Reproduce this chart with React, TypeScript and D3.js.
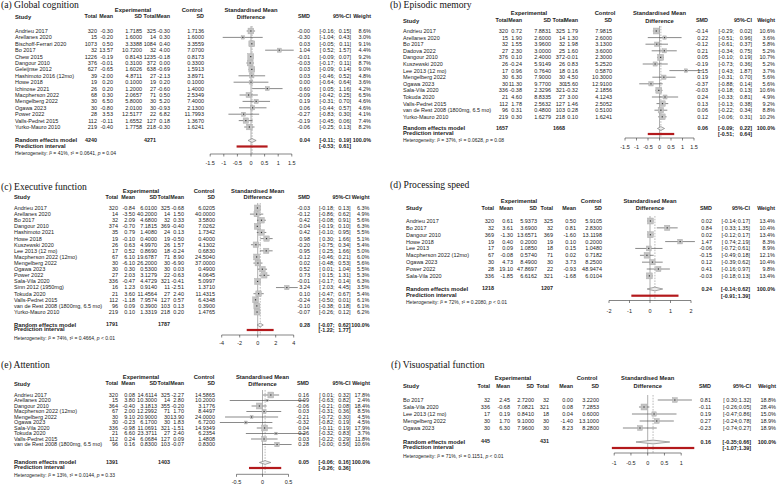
import React, { useEffect } from "react";
import * as d3 from "d3";

// ---------------- DATA ----------------
// (a) Global cognition
const aStudy = ["Andrieu 2017","Arellanes 2020","Bischoff-Ferrari 2020","Bo 2017","Chew 2015","Dangour 2010","Geleijnse 2012","Hashimoto 2016 (12mo)","Howe 2018","Ichinose 2021","Macpherson 2022","Mengelberg 2022","Ogawa 2023","Power 2022","Valls-Pedret 2015","Yurko-Mauro 2010"];
const aExpN = [320,15,1073,32,1226,376,627,39,19,26,68,30,30,28,112,219];
const aExpMean = [-0.30,-0.20,0.50,13.57,-0.19,-0.01,-0.65,-2.00,0.20,0.20,0.30,6.50,-0.80,3.53,-0.11,-0.40];
const aExpSD = [1.7185,1.6000,3.3388,10.7200,0.8143,0.3100,1.6026,4.8711,0.1000,1.2000,2.0657,5.8000,2.0100,12.5177,1.6552,1.7758];
const aCtlN = [325,14,1084,32,1235,372,638,27,19,27,71,30,30,22,127,218];
const aCtlMean = [-0.30,0.30,0.40,4.00,-0.18,0.00,-0.69,-2.13,0.20,-0.60,0.50,5.20,-0.93,6.82,0.18,-0.30];
const aCtlSD = [1.7136,1.6000,3.3559,7.0700,0.8173,0.3300,1.5913,3.8971,0.1000,1.4000,2.5349,7.4000,2.1300,11.7993,1.3670,1.6241];
const aSMD = [-0.004,-0.30,0.03,1.04,-0.01,-0.03,0.03,0.03,0.00,0.60,-0.09,0.19,0.06,-0.27,-0.19,-0.06];
const aLow = [-0.16,-1.04,-0.05,0.52,-0.09,-0.17,-0.09,-0.46,-0.64,0.05,-0.42,-0.31,-0.44,-0.83,-0.45,-0.25];
const aUp = [0.15,0.43,0.11,1.57,0.07,0.11,0.14,0.52,0.64,1.16,0.25,0.70,0.57,0.30,0.06,0.13];
const aWeight = [8.6,3.0,9.1,4.4,9.2,8.7,9.0,4.8,3.6,4.2,6.5,4.6,4.6,4.1,7.4,8.2];
const aSummary = [0.04,-0.11,0.19];
const aPI = [-0.53,0.61];
const aTotals = [4240,4271];
const aHet = ["41%","0.0641","= 0.04"];
const aTicks = [-1.5,-1,-0.5,0,0.5,1,1.5];

// (b) Episodic memory
const bStudy = ["Andrieu 2017","Arellanes 2020","Bo 2017","Dadova 2022","Dangour 2010","Kuszewski 2020","Lee 2013 (12 mo)","Mengelberg 2022","Ogawa 2023","Sala-Vila 2020","Tokuda 2020","Valls-Pedret 2015","van de Rest 2008 (1800mg, 6.5 mo)","Yurko-Mauro 2010"];
const bExpN = [320,15,32,27,376,26,17,30,30,336,21,112,96,219];
const bExpMean = [0.72,1.90,1.55,2.30,0.10,-0.24,0.96,6.30,11.30,-0.38,4.60,1.78,0.31,0.30];
const bExpSD = [7.8831,2.6000,3.9600,3.0000,2.4000,5.9149,0.7640,7.9000,9.7700,2.3296,8.8335,2.5632,0.4800,1.6279];
const bCtlN = [325,14,32,25,372,26,18,30,30,321,27,127,103,218];
const bCtlMean = [1.79,1.30,1.98,1.60,-0.01,0.83,0.16,4.50,15.60,-0.32,3.00,1.46,0.28,0.10];
const bCtlSD = [7.9815,2.6000,3.1300,3.6000,2.3000,5.2520,0.5870,10.3000,12.9100,2.1856,4.1243,2.5052,0.5100,1.6241];
const bSMD = [-0.14,0.22,-0.12,0.21,0.05,-0.19,1.15,0.19,-0.37,-0.03,0.24,0.13,0.06,0.12];
const bLow = [-0.29,-0.51,-0.61,-0.34,-0.10,-0.73,0.43,-0.31,-0.88,-0.18,-0.33,-0.13,-0.22,-0.06];
const bUp = [0.02,0.96,0.37,0.75,0.19,0.36,1.87,0.70,0.14,0.13,0.81,0.38,0.34,0.31];
const bWeight = [10.6,3.6,5.8,5.2,10.7,5.2,3.7,5.6,5.6,10.6,4.9,9.2,8.8,10.2];
const bSummary = [0.06,-0.09,0.22];
const bPI = [-0.51,0.64];
const bTotals = [1657,1668];
const bHet = ["37%","0.0628","= 0.08"];
const bTicks = [-1.5,-1,-0.5,0,0.5,1,1.5];

// (c) Executive function
const cStudy = ["Andrieu 2017","Arellanes 2020","Bo 2017","Dangour 2010","Hashimoto 2021","Howe 2018","Kuszewski 2020","Lee 2013 (12 mo)","Macpherson 2022 (12mo)","Mengelberg 2022","Ogawa 2023","Power 2022","Sala-Vila 2020","Sinn 2012 (1950mg)","Tokuda 2020","Valls-Pedret 2015","van de Rest 2008 (1800mg, 6.5 mo)","Yurko-Mauro 2010"];
const cExpN = [320,14,32,374,35,19,26,17,67,30,30,27,336,16,21,112,96,219];
const cExpMean = [-0.84,-3.50,2.09,-0.70,0.79,-0.10,0.63,0.52,6.10,-6.10,0.30,2.03,-0.47,1.23,3.60,-1.18,0.09,0.10];
const cExpSD = [6.0100,40.2000,4.6800,7.1815,1.4080,0.4000,4.9970,0.8690,19.6787,26.2000,0.5300,3.1279,4.4729,0.9140,11.4564,7.9574,0.3900,1.3319];
const cCtlN = [325,14,32,369,24,19,26,18,71,30,30,22,321,11,27,127,103,218];
const cCtlMean = [-0.68,1.50,0.33,-0.40,0.13,-0.50,1.57,-0.24,8.90,-6.90,0.03,-0.63,-0.41,-2.51,2.40,0.57,0.13,0.20];
const cCtlSD = [6.0205,40.0000,3.5800,7.0262,1.7342,0.4000,4.1302,0.6830,24.5040,37.0000,0.4900,4.0645,5.0997,1.3710,11.4315,6.4348,0.3900,1.4765];
const cSMD = [-0.03,-0.12,0.42,-0.04,0.42,0.98,-0.20,0.95,-0.12,0.02,0.52,0.73,-0.01,3.24,0.10,-0.24,-0.10,-0.07];
const cLow = [-0.18,-0.86,-0.08,-0.19,-0.10,0.30,-0.75,0.25,-0.46,-0.48,0.01,0.15,-0.17,2.03,-0.47,-0.50,-0.38,-0.26];
const cUp = [0.13,0.62,0.91,0.10,0.95,1.66,0.34,1.66,0.21,0.53,1.04,1.31,0.14,4.45,0.67,0.01,0.18,0.12];
const cWeight = [6.3,4.9,5.6,6.3,5.5,5.1,5.4,5.0,6.0,5.6,5.5,5.3,6.3,3.5,5.4,6.1,6.1,6.2];
const cSummary = [0.28,-0.07,0.62];
const cPI = [-1.22,1.77];
const cTotals = [1791,1787];
const cHet = ["74%","0.4664","< 0.01"];
const cTicks = [-4,-2,0,2,4];

// (d) Processing speed
const dStudy = ["Andrieu 2017","Bo 2017","Dangour 2010","Howe 2018","Lee 2013","Macpherson 2022 (12mo)","Ogawa 2023","Power 2022","Sala-Vila 2020"];
const dExpN = [320,32,369,19,17,67,30,28,336];
const dExpMean = [0.61,3.61,-1.30,0.40,0.09,-0.08,4.73,19.10,-1.85];
const dExpSD = [5.9373,3.6900,13.6571,0.2000,1.0850,0.5740,8.4900,47.8697,6.6162];
const dCtlN = [325,32,369,19,18,71,30,22,321];
const dCtlMean = [0.50,0.81,-1.60,0.10,0.15,0.02,3.73,-0.93,-1.68];
const dCtlSD = [5.9105,2.8300,13.1198,0.2000,1.0480,0.7182,8.2500,48.9474,6.0104];
const dSMD = [0.02,0.84,0.02,1.47,-0.06,-0.15,0.12,0.41,-0.03];
const dLow = [-0.14,0.33,-0.12,0.74,-0.72,-0.49,-0.39,-0.16,-0.18];
const dUp = [0.17,1.35,0.17,2.19,0.61,0.18,0.62,0.97,0.13];
const dWeight = [13.4,10.4,13.4,8.3,8.9,12.1,10.4,9.8,13.4];
const dSummary = [0.24,-0.14,0.62];
const dPI = [-0.91,1.39];
const dTotals = [1218,1207];
const dHet = ["72%","0.2080","< 0.01"];
const dTicks = [-2,-1,0,1,2];

// (e) Attention
const eStudy = ["Andrieu 2017","Arellanes 2020","Dangour 2010","Macpherson 2022 (12mo)","Mengelberg 2022","Ogawa 2023","Sala-Vila 2020","Tokuda 2020","Valls-Pedret 2015","van de Rest 2008 (1800mg, 6.5 mo)"];
const eExpN = [320,15,364,67,30,30,336,21,112,96];
const eExpMean = [0.08,3.80,-0.40,2.00,9.10,-0.23,-0.98,6.60,0.24,0.16];
const eExpSD = [14.6114,10.3000,3.1813,12.2992,20.9000,6.1700,11.0691,23.3711,6.0684,0.8300];
const eCtlN = [325,14,355,71,30,30,321,27,127,103];
const eCtlMean = [-2.27,2.80,-0.20,1.70,13.90,1.83,-1.51,2.40,0.09,-0.07];
const eCtlSD = [14.5865,10.2000,3.1776,8.4497,24.0000,6.7200,14.9349,6.2354,1.4808,0.8300];
const eSMD = [0.16,0.09,-0.06,0.03,-0.21,-0.32,0.04,0.26,0.03,0.28];
const eLow = [0.01,-0.63,-0.21,-0.31,-0.72,-0.82,-0.11,-0.32,-0.22,-0.004];
const eUp = [0.32,0.82,0.08,0.36,0.30,0.19,0.19,0.83,0.29,0.56];
const eWeight = [17.8,2.4,18.4,8.5,4.5,4.5,17.9,3.7,11.8,10.6];
const eSummary = [0.05,-0.06,0.16];
const ePI = [-0.26,0.36];
const eTotals = [1391,1403];
const eHet = ["13%","0.0144","= 0.33"];
const eTicks = [-0.5,0,0.5];

// (f) Visuospatial function
const fStudy = ["Bo 2017","Sala-Vila 2020","Lee 2013 (12 mo)","Mengelberg 2022","Ogawa 2023"];
const fExpN = [32,336,17,30,30];
const fExpMean = [2.45,-0.68,0.19,1.70,6.30];
const fExpSD = [2.7200,7.0821,0.8410,9.1000,7.9600];
const fCtlN = [32,321,18,30,30];
const fCtlMean = [0.00,0.08,0.04,-1.40,8.23];
const fCtlSD = [3.2200,7.2853,0.6000,13.1000,8.2800];
const fSMD = [0.81,-0.11,0.19,0.27,-0.23];
const fLow = [0.30,-0.26,-0.47,-0.24,-0.74];
const fUp = [1.32,0.05,0.86,0.78,0.27];
const fWeight = [18.8,28.4,15.0,18.9,18.9];
const fSummary = [0.16,-0.35,0.66];
const fPI = [-1.07,1.39];
const fTotals = [445,431];
const fHet = ["71%","0.1151","< 0.01"];
const fTicks = [-1,-0.5,0,0.5,1];

// ---------------- LAYOUT ----------------
const SANS = "'Liberation Sans', Arial, Helvetica, sans-serif";
const SERIF = "'Liberation Serif', 'Times New Roman', serif";

const layouts = {
  a: { tx: 1, ty: 7.5, h1: 10, h2: 16.5, studyX: 15, cols: [97,113,142,156,170,204], expHdr: 133, ctlHdr: 192, row0: 31, step: 6.4, sumY: 140.5, piY: 146.5, hetY: 153, range: [210.2,291.8], axisY: 154, tickY: 163.5, smdX: 310, ciSemi: 335, ciEnd: 351, wX: 371 },
  b: { tx: 390, ty: 7.5, h1: 13, h2: 20.5, studyX: 403, cols: [508,522,551,565,578,612], expHdr: 529, ctlHdr: 605, row0: 31, step: 6.6, sumY: 128.5, piY: 134, hetY: 140, range: [625,694], axisY: 138, tickY: 147, smdX: 708, ciSemi: 734, ciEnd: 752, wX: 775 },
  c: { tx: 1, ty: 189, h1: 190.5, h2: 197, studyX: 14, cols: [118,135,157,170,184,215], expHdr: 141, ctlHdr: 204, row0: 208, step: 6.12, sumY: 325, piY: 330, hetY: 338, range: [221.7,293.7], axisY: 335, tickY: 343.5, smdX: 310, ciSemi: 334.5, ciEnd: 350.5, wX: 369.5 },
  d: { tx: 390, ty: 187, h1: 200.5, h2: 208, studyX: 406, cols: [494,513,537,553,576,602], expHdr: 519, ctlHdr: 591, row0: 221, step: 6.86, sumY: 289, piY: 295.7, hetY: 302.5, range: [609,691], axisY: 300.5, tickY: 311, smdX: 712, ciSemi: 737, ciEnd: 750, wX: 775 },
  e: { tx: 1, ty: 367, h1: 377, h2: 383.5, studyX: 14, cols: [118,135,157,170,184,215], expHdr: 141, ctlHdr: 204, row0: 395, step: 5.5, sumY: 462.5, piY: 468, hetY: 475, range: [236.5,288.5], axisY: 474.3, tickY: 482, smdX: 309, ciSemi: 334.5, ciEnd: 350.5, wX: 370 },
  f: { tx: 391, ty: 367, h1: 378, h2: 386, studyX: 403, cols: [490,510,534,549,573,599], expHdr: 513, ctlHdr: 587, row0: 400, step: 7, sumY: 442, piY: 448, hetY: 456, range: [614.2,681.2], axisY: 453, tickY: 463, smdX: 711, ciSemi: 738.5, ciEnd: 751, wX: 776 },
};

const panels = [
  { key: "a", title: "(a) Global cognition", study: aStudy, expN: aExpN, expMean: aExpMean, expSD: aExpSD, ctlN: aCtlN, ctlMean: aCtlMean, ctlSD: aCtlSD, smd: aSMD, low: aLow, up: aUp, weight: aWeight, summary: aSummary, pi: aPI, totals: aTotals, het: aHet, ticks: aTicks },
  { key: "b", title: "(b) Episodic memory", study: bStudy, expN: bExpN, expMean: bExpMean, expSD: bExpSD, ctlN: bCtlN, ctlMean: bCtlMean, ctlSD: bCtlSD, smd: bSMD, low: bLow, up: bUp, weight: bWeight, summary: bSummary, pi: bPI, totals: bTotals, het: bHet, ticks: bTicks },
  { key: "c", title: "(c) Executive function", study: cStudy, expN: cExpN, expMean: cExpMean, expSD: cExpSD, ctlN: cCtlN, ctlMean: cCtlMean, ctlSD: cCtlSD, smd: cSMD, low: cLow, up: cUp, weight: cWeight, summary: cSummary, pi: cPI, totals: cTotals, het: cHet, ticks: cTicks },
  { key: "d", title: "(d) Processing speed", study: dStudy, expN: dExpN, expMean: dExpMean, expSD: dExpSD, ctlN: dCtlN, ctlMean: dCtlMean, ctlSD: dCtlSD, smd: dSMD, low: dLow, up: dUp, weight: dWeight, summary: dSummary, pi: dPI, totals: dTotals, het: dHet, ticks: dTicks },
  { key: "e", title: "(e) Attention", study: eStudy, expN: eExpN, expMean: eExpMean, expSD: eExpSD, ctlN: eCtlN, ctlMean: eCtlMean, ctlSD: eCtlSD, smd: eSMD, low: eLow, up: eUp, weight: eWeight, summary: eSummary, pi: ePI, totals: eTotals, het: eHet, ticks: eTicks },
  { key: "f", title: "(f) Visuospatial function", study: fStudy, expN: fExpN, expMean: fExpMean, expSD: fExpSD, ctlN: fCtlN, ctlMean: fCtlMean, ctlSD: fCtlSD, smd: fSMD, low: fLow, up: fUp, weight: fWeight, summary: fSummary, pi: fPI, totals: fTotals, het: fHet, ticks: fTicks },
];

const FS = 5.5;    // regular table text
const FSB = 5.4;   // bold column headers / summary numbers
const FSL = 5.8;   // bold row labels
const FSH = 5.0;   // heterogeneity
const TXT = "#222";

function T({ x, y, children, anchor = "start", bold = false, size = FS, fill = TXT, font = SANS }: any) {
  return (
    <text x={x} y={y} dy="0.35em" textAnchor={anchor} fontWeight={bold ? "bold" : "normal"} fontSize={size} fill={fill} fontFamily={font}>
      {children}
    </text>
  );
}

const f2 = (v: number) => v.toFixed(2);
const f4 = (v: number) => v.toFixed(4);

function Forest({ p }: any) {
  const L = (layouts as any)[p.key];
  const x = d3.scaleLinear().domain([p.ticks[0], p.ticks[p.ticks.length - 1]]).range(L.range);
  const rowY = (i: number) => L.row0 + i * L.step;
  const wmax = d3.max(p.weight as number[]) as number;
  const sqSize = (w: number) => 6 * Math.sqrt(w / wmax);
  const lineTop = L.row0 - 5;
  const hd = 1.9;
  const [est, lo, hi] = p.summary;
  const diamond = `M${x(lo)},${L.sumY} L${x(est)},${L.sumY - hd} L${x(hi)},${L.sumY} L${x(est)},${L.sumY + hd} Z`;

  const ci = (low: number, up: number, y: number, bold: boolean, k: string) => {
    const sz = bold ? FSB : FS;
    const lowTxt = "[" + (low >= 0 && !Object.is(low, -0) && !(low < 0) ? "\u00a0" : "") + f2(low) + ";";
    return (
      <g key={k}>
        <T x={L.ciSemi} y={y} anchor="end" bold={bold} size={sz}>{lowTxt}</T>
        <T x={L.ciEnd} y={y} anchor="end" bold={bold} size={sz}>{f2(up)}]</T>
      </g>
    );
  };

  return (
    <g>
      <T x={L.tx} y={L.ty - 2.5} size={9.6} font={SERIF} fill="#111">{p.title}</T>
      {/* headers */}
      <T x={L.expHdr} y={L.h1} anchor="middle" bold size={FSL}>Experimental</T>
      <T x={L.ctlHdr} y={L.h1} anchor="middle" bold size={FSL}>Control</T>
      <T x={L.studyX} y={L.h2} bold size={FSL}>Study</T>
      {["Total", "Mean", "SD", "Total", "Mean", "SD"].map((h, i) => (
        <T key={"h" + i} x={L.cols[i]} y={L.h2} anchor="end" bold size={FSB}>{h}</T>
      ))}
      <T x={x(0)} y={L.h1} anchor="middle" bold size={FSL}>Standardised Mean</T>
      <T x={x(0)} y={L.h2} anchor="middle" bold size={FSL}>Difference</T>
      <T x={L.smdX} y={L.h2} anchor="end" bold size={FSB}>SMD</T>
      <T x={L.ciEnd} y={L.h2} anchor="end" bold size={FSB}>95%-CI</T>
      <T x={L.wX} y={L.h2} anchor="end" bold size={FSB}>Weight</T>

      {/* reference lines */}
      <line x1={x(0)} x2={x(0)} y1={lineTop} y2={L.axisY} stroke="#8c8c8c" strokeWidth={0.7} />
      <line x1={x(est)} x2={x(est)} y1={lineTop} y2={L.axisY} stroke="#8c8c8c" strokeWidth={0.6} strokeDasharray="1.6,1.2" />

      {/* rows */}
      {p.study.map((s: string, i: number) => {
        const y = rowY(i);
        const sz = sqSize(p.weight[i]);
        return (
          <g key={"r" + i}>
            <T x={L.studyX} y={y}>{s}</T>
            <T x={L.cols[0]} y={y} anchor="end">{p.expN[i]}</T>
            <T x={L.cols[1]} y={y} anchor="end">{f2(p.expMean[i])}</T>
            <T x={L.cols[2]} y={y} anchor="end">{f4(p.expSD[i])}</T>
            <T x={L.cols[3]} y={y} anchor="end">{p.ctlN[i]}</T>
            <T x={L.cols[4]} y={y} anchor="end">{f2(p.ctlMean[i])}</T>
            <T x={L.cols[5]} y={y} anchor="end">{f4(p.ctlSD[i])}</T>
            <line x1={x(p.low[i])} x2={x(p.up[i])} y1={y} y2={y} stroke="#3a3a3a" strokeWidth={0.6} />
            <rect x={x(p.smd[i]) - sz / 2} y={y - sz / 2} width={sz} height={sz} fill="#c4c4c4" stroke="#a8a8a8" strokeWidth={0.4} />
            <rect x={x(p.smd[i]) - 0.6} y={y - 0.6} width={1.2} height={1.2} fill="#333" />
            <T x={L.smdX} y={y} anchor="end">{f2(p.smd[i])}</T>
            {ci(p.low[i], p.up[i], y, false, "ci" + i)}
            <T x={L.wX} y={y} anchor="end">{p.weight[i].toFixed(1) + "%"}</T>
          </g>
        );
      })}

      {/* summary */}
      <T x={L.studyX} y={L.sumY - 0.5} bold size={FSL}>Random effects model</T>
      <T x={L.cols[0]} y={L.sumY - 0.5} anchor="end" bold size={FSB}>{p.totals[0]}</T>
      <T x={L.cols[3]} y={L.sumY - 0.5} anchor="end" bold size={FSB}>{p.totals[1]}</T>
      <path d={diamond} fill="#ececec" stroke="#6e6e6e" strokeWidth={0.6} />
      <T x={L.smdX} y={L.sumY} anchor="end" bold size={FSB}>{f2(est)}</T>
      {ci(lo, hi, L.sumY, true, "cis")}
      <T x={L.wX} y={L.sumY} anchor="end" bold size={FSB}>100.0%</T>

      <T x={L.studyX} y={L.piY - 1} bold size={FSL}>Prediction interval</T>
      <rect x={x(p.pi[0])} y={L.piY - 1.1} width={x(p.pi[1]) - x(p.pi[0])} height={2.2} fill="#b3191c" />
      {ci(p.pi[0], p.pi[1], L.piY, true, "cip")}

      <text x={L.studyX} y={L.hetY} dy="0.35em" fontSize={FSH} fill={TXT} fontFamily={SANS}>
        Heterogeneity: <tspan fontStyle="italic">I</tspan>² = {p.het[0]}, <tspan fontStyle="italic">τ</tspan>² = {p.het[1]}, <tspan fontStyle="italic">p</tspan> {p.het[2]}
      </text>

      {/* axis */}
      <line x1={L.range[0]} x2={L.range[1]} y1={L.axisY} y2={L.axisY} stroke="#333" strokeWidth={0.6} />
      {p.ticks.map((t: number, i: number) => (
        <g key={"t" + i}>
          <line x1={x(t)} x2={x(t)} y1={L.axisY} y2={L.axisY + 2.5} stroke="#333" strokeWidth={0.6} />
          <T x={x(t)} y={L.tickY} anchor="middle">{String(t)}</T>
        </g>
      ))}
    </g>
  );
}

export default function App() {
  useEffect(() => {
    document.body.style.margin = "0";
  }, []);
  return (
    <div style={{ position: "absolute", left: 0, top: 0 }}>
      <svg width={777} height={485} viewBox="0 0 777 485" style={{ display: "block", background: "#fff" }}>
        <rect width={777} height={485} fill="#fff" />
        {panels.map((p) => (
          <Forest key={p.key} p={p} />
        ))}
      </svg>
    </div>
  );
}
